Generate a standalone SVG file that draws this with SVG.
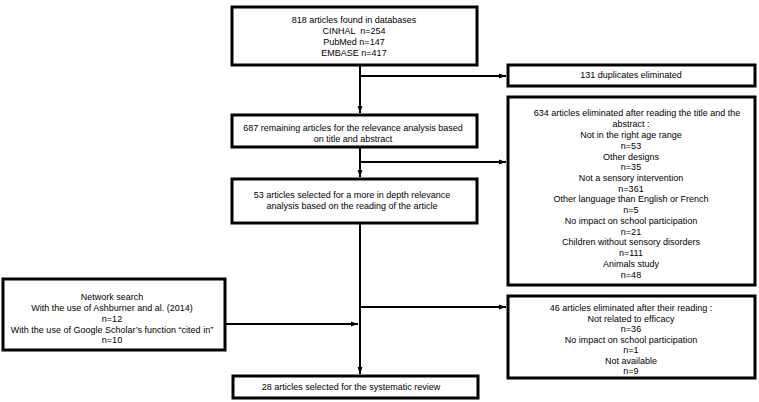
<svg xmlns="http://www.w3.org/2000/svg" width="759" height="402" viewBox="0 0 759 402">
<defs>
<marker id="ah" markerWidth="8" markerHeight="8" refX="7" refY="4" orient="auto" markerUnits="userSpaceOnUse">
<path d="M0,1.5 L7,4 L0,6.5 Z" fill="#000"/>
</marker>
<style>
.box{fill:#fff;stroke:#000;stroke-width:3}
.t{font-family:"Liberation Sans",Arial,sans-serif;font-size:9px;fill:#000;text-anchor:middle}
.c{fill:none;stroke:#000;stroke-width:2}
</style>
</defs>
<rect width="759" height="402" fill="#fff"/>
<g id="connectors">
<path class="c" d="M360,65 V113" marker-end="url(#ah)"/>
<path class="c" d="M360,76 H506" marker-end="url(#ah)"/>
<path class="c" d="M360,147 V177" marker-end="url(#ah)"/>
<path class="c" d="M360,162 H506" marker-end="url(#ah)"/>
<path class="c" d="M360,223 V374" marker-end="url(#ah)"/>
<path class="c" d="M360,307 H506" marker-end="url(#ah)"/>
<path class="c" d="M225,324 H358" marker-end="url(#ah)"/>
</g>
<g id="n818">
<rect class="box" x="232" y="7" width="245" height="58"/>
<text class="t" x="354" y="23">818 articles found in databases</text>
<text class="t" x="354" y="34" xml:space="preserve">CINHAL  n=254</text>
<text class="t" x="354" y="45">PubMed n=147</text>
<text class="t" x="354" y="56">EMBASE n=417</text>
</g>
<g id="n131">
<rect class="box" x="508" y="65" width="247" height="21"/>
<text class="t" x="631" y="78">131 duplicates eliminated</text>
</g>
<g id="n687">
<rect class="box" x="232" y="115" width="245" height="32"/>
<text class="t" x="353" y="131">687 remaining articles for the relevance analysis based</text>
<text class="t" x="353" y="142">on title and abstract</text>
</g>
<g id="n634">
<rect class="box" x="508" y="97" width="247" height="188"/>
<text class="t" x="637" y="116">634 articles eliminated after reading the title and the</text>
<text class="t" x="631" y="127">abstract :</text>
<text class="t" x="631" y="138">Not in the right age range</text>
<text class="t" x="631" y="149">n=53</text>
<text class="t" x="631" y="159.5">Other designs</text>
<text class="t" x="631" y="170">n=35</text>
<text class="t" x="631" y="181">Not a sensory intervention</text>
<text class="t" x="631" y="191.5">n=361</text>
<text class="t" x="631" y="202">Other language than English or French</text>
<text class="t" x="631" y="213">n=5</text>
<text class="t" x="631" y="224">No impact on school participation</text>
<text class="t" x="631" y="234.5">n=21</text>
<text class="t" x="631" y="245">Children without sensory disorders</text>
<text class="t" x="631" y="256">n=111</text>
<text class="t" x="631" y="267">Animals study</text>
<text class="t" x="631" y="278">n=48</text>
</g>
<g id="n53">
<rect class="box" x="232" y="179" width="245" height="44"/>
<text class="t" x="352" y="198">53 articles selected for a more in depth relevance</text>
<text class="t" x="352" y="209">analysis based on the reading of the article</text>
</g>
<g id="network">
<rect class="box" x="3" y="279" width="222" height="71"/>
<text class="t" x="112" y="300">Network search</text>
<text class="t" x="112" y="311">With the use of Ashburner and al. (2014)</text>
<text class="t" x="112" y="322">n=12</text>
<text class="t" x="112" y="332.5">With the use of Google Scholar’s function “cited in”</text>
<text class="t" x="112" y="343">n=10</text>
</g>
<g id="n46">
<rect class="box" x="508" y="296" width="247" height="82"/>
<text class="t" x="631" y="311">46 articles eliminated after their reading :</text>
<text class="t" x="631" y="321.5">Not related to efficacy</text>
<text class="t" x="631" y="332">n=36</text>
<text class="t" x="631" y="342.5">No impact on school participation</text>
<text class="t" x="631" y="353">n=1</text>
<text class="t" x="631" y="363.5">Not available</text>
<text class="t" x="631" y="374">n=9</text>
</g>
<g id="n28">
<rect class="box" x="233" y="376" width="245" height="22"/>
<text class="t" x="351" y="390">28 articles selected for the systematic review</text>
</g>
</svg>
